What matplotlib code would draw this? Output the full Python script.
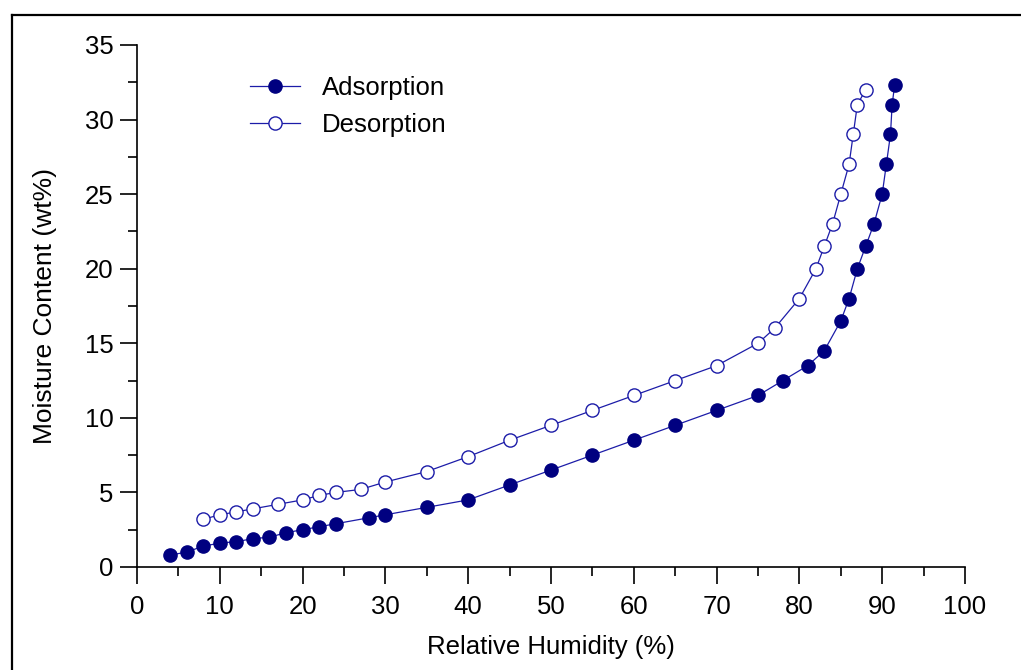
import matplotlib
matplotlib.use("Agg")
import matplotlib.pyplot as plt
from matplotlib.lines import Line2D
from matplotlib.ticker import MultipleLocator

plt.rcParams["font.family"] = ["Liberation Sans", "DejaVu Sans"]

# --- data ---
ads_rh = [4, 6, 8, 10, 12, 14, 16, 18, 20, 22, 24, 28, 30, 35, 40, 45, 50, 55,
          60, 65, 70, 75, 78, 81, 83, 85, 86, 87, 88, 89, 90, 90.5, 91, 91.2, 91.5]
ads_mc = [0.8, 1.0, 1.4, 1.6, 1.7, 1.9, 2.0, 2.3, 2.5, 2.7, 2.9, 3.3, 3.5, 4.0, 4.5,
          5.5, 6.5, 7.5, 8.5, 9.5, 10.5, 11.5, 12.5, 13.5, 14.5, 16.5, 18.0, 20.0,
          21.5, 23.0, 25.0, 27.0, 29.0, 31.0, 32.3]

des_rh = [8, 10, 12, 14, 17, 20, 22, 24, 27, 30, 35, 40, 45, 50, 55, 60, 65, 70,
          75, 77, 80, 82, 83, 84, 85, 86, 86.5, 87, 88]
des_mc = [3.2, 3.5, 3.7, 3.9, 4.2, 4.5, 4.8, 5.0, 5.2, 5.7, 6.4, 7.4, 8.5, 9.5,
          10.5, 11.5, 12.5, 13.5, 15.0, 16.0, 18.0, 20.0, 21.5, 23.0, 25.0, 27.0,
          29.0, 31.0, 32.0]

W, H = 1021, 670
fig = plt.figure(figsize=(W / 100, H / 100), dpi=100)
ax = fig.add_axes([137 / W, 1 - 567 / H, (965 - 137) / W, (567 - 45) / H])

navy = "#000080"
line_c = "#1c1ca8"

ax.plot(ads_rh, ads_mc, color=line_c, lw=0.9, marker="o", ms=9.5,
        mfc=navy, mec=navy, label="Adsorption", zorder=3)
ax.plot(des_rh, des_mc, color=line_c, lw=0.9, marker="o", ms=9.5,
        mfc="white", mec=line_c, mew=1.0, label="Desorption", zorder=3)

ax.set_xlim(0, 100)
ax.set_ylim(0, 35)
ax.xaxis.set_major_locator(MultipleLocator(10))
ax.xaxis.set_minor_locator(MultipleLocator(5))
ax.yaxis.set_major_locator(MultipleLocator(5))
ax.yaxis.set_minor_locator(MultipleLocator(2.5))

for s in ["top", "right"]:
    ax.spines[s].set_visible(False)
for s in ["left", "bottom"]:
    ax.spines[s].set_linewidth(1.2)

ax.tick_params(which="major", direction="out", length=12, width=1.2,
               labelsize=18.5, pad=5)
ax.tick_params(axis="x", which="major", pad=8)
ax.tick_params(which="minor", direction="out", length=6.5, width=1.2)

ax.set_xlabel("Relative Humidity (%)", fontsize=18.5, labelpad=12)
ax.set_ylabel("Moisture Content (wt%)", fontsize=19, labelpad=20)

ax.legend(loc="upper left", bbox_to_anchor=(250 / W, 1 - 76 / H),
          bbox_transform=fig.transFigure, frameon=False, fontsize=18.5,
          handlelength=1.95, handletextpad=0.85, labelspacing=0.5,
          borderpad=0, borderaxespad=0)

# outer frame (left and top edges visible in the crop)
fig.add_artist(Line2D([12 / W, 12 / W], [0, 1 - 15 / H], transform=fig.transFigure,
                      color="black", lw=1.6))
fig.add_artist(Line2D([12 / W, 1], [1 - 15 / H, 1 - 15 / H], transform=fig.transFigure,
                      color="black", lw=1.6))

fig.savefig("out.png", dpi=100)
